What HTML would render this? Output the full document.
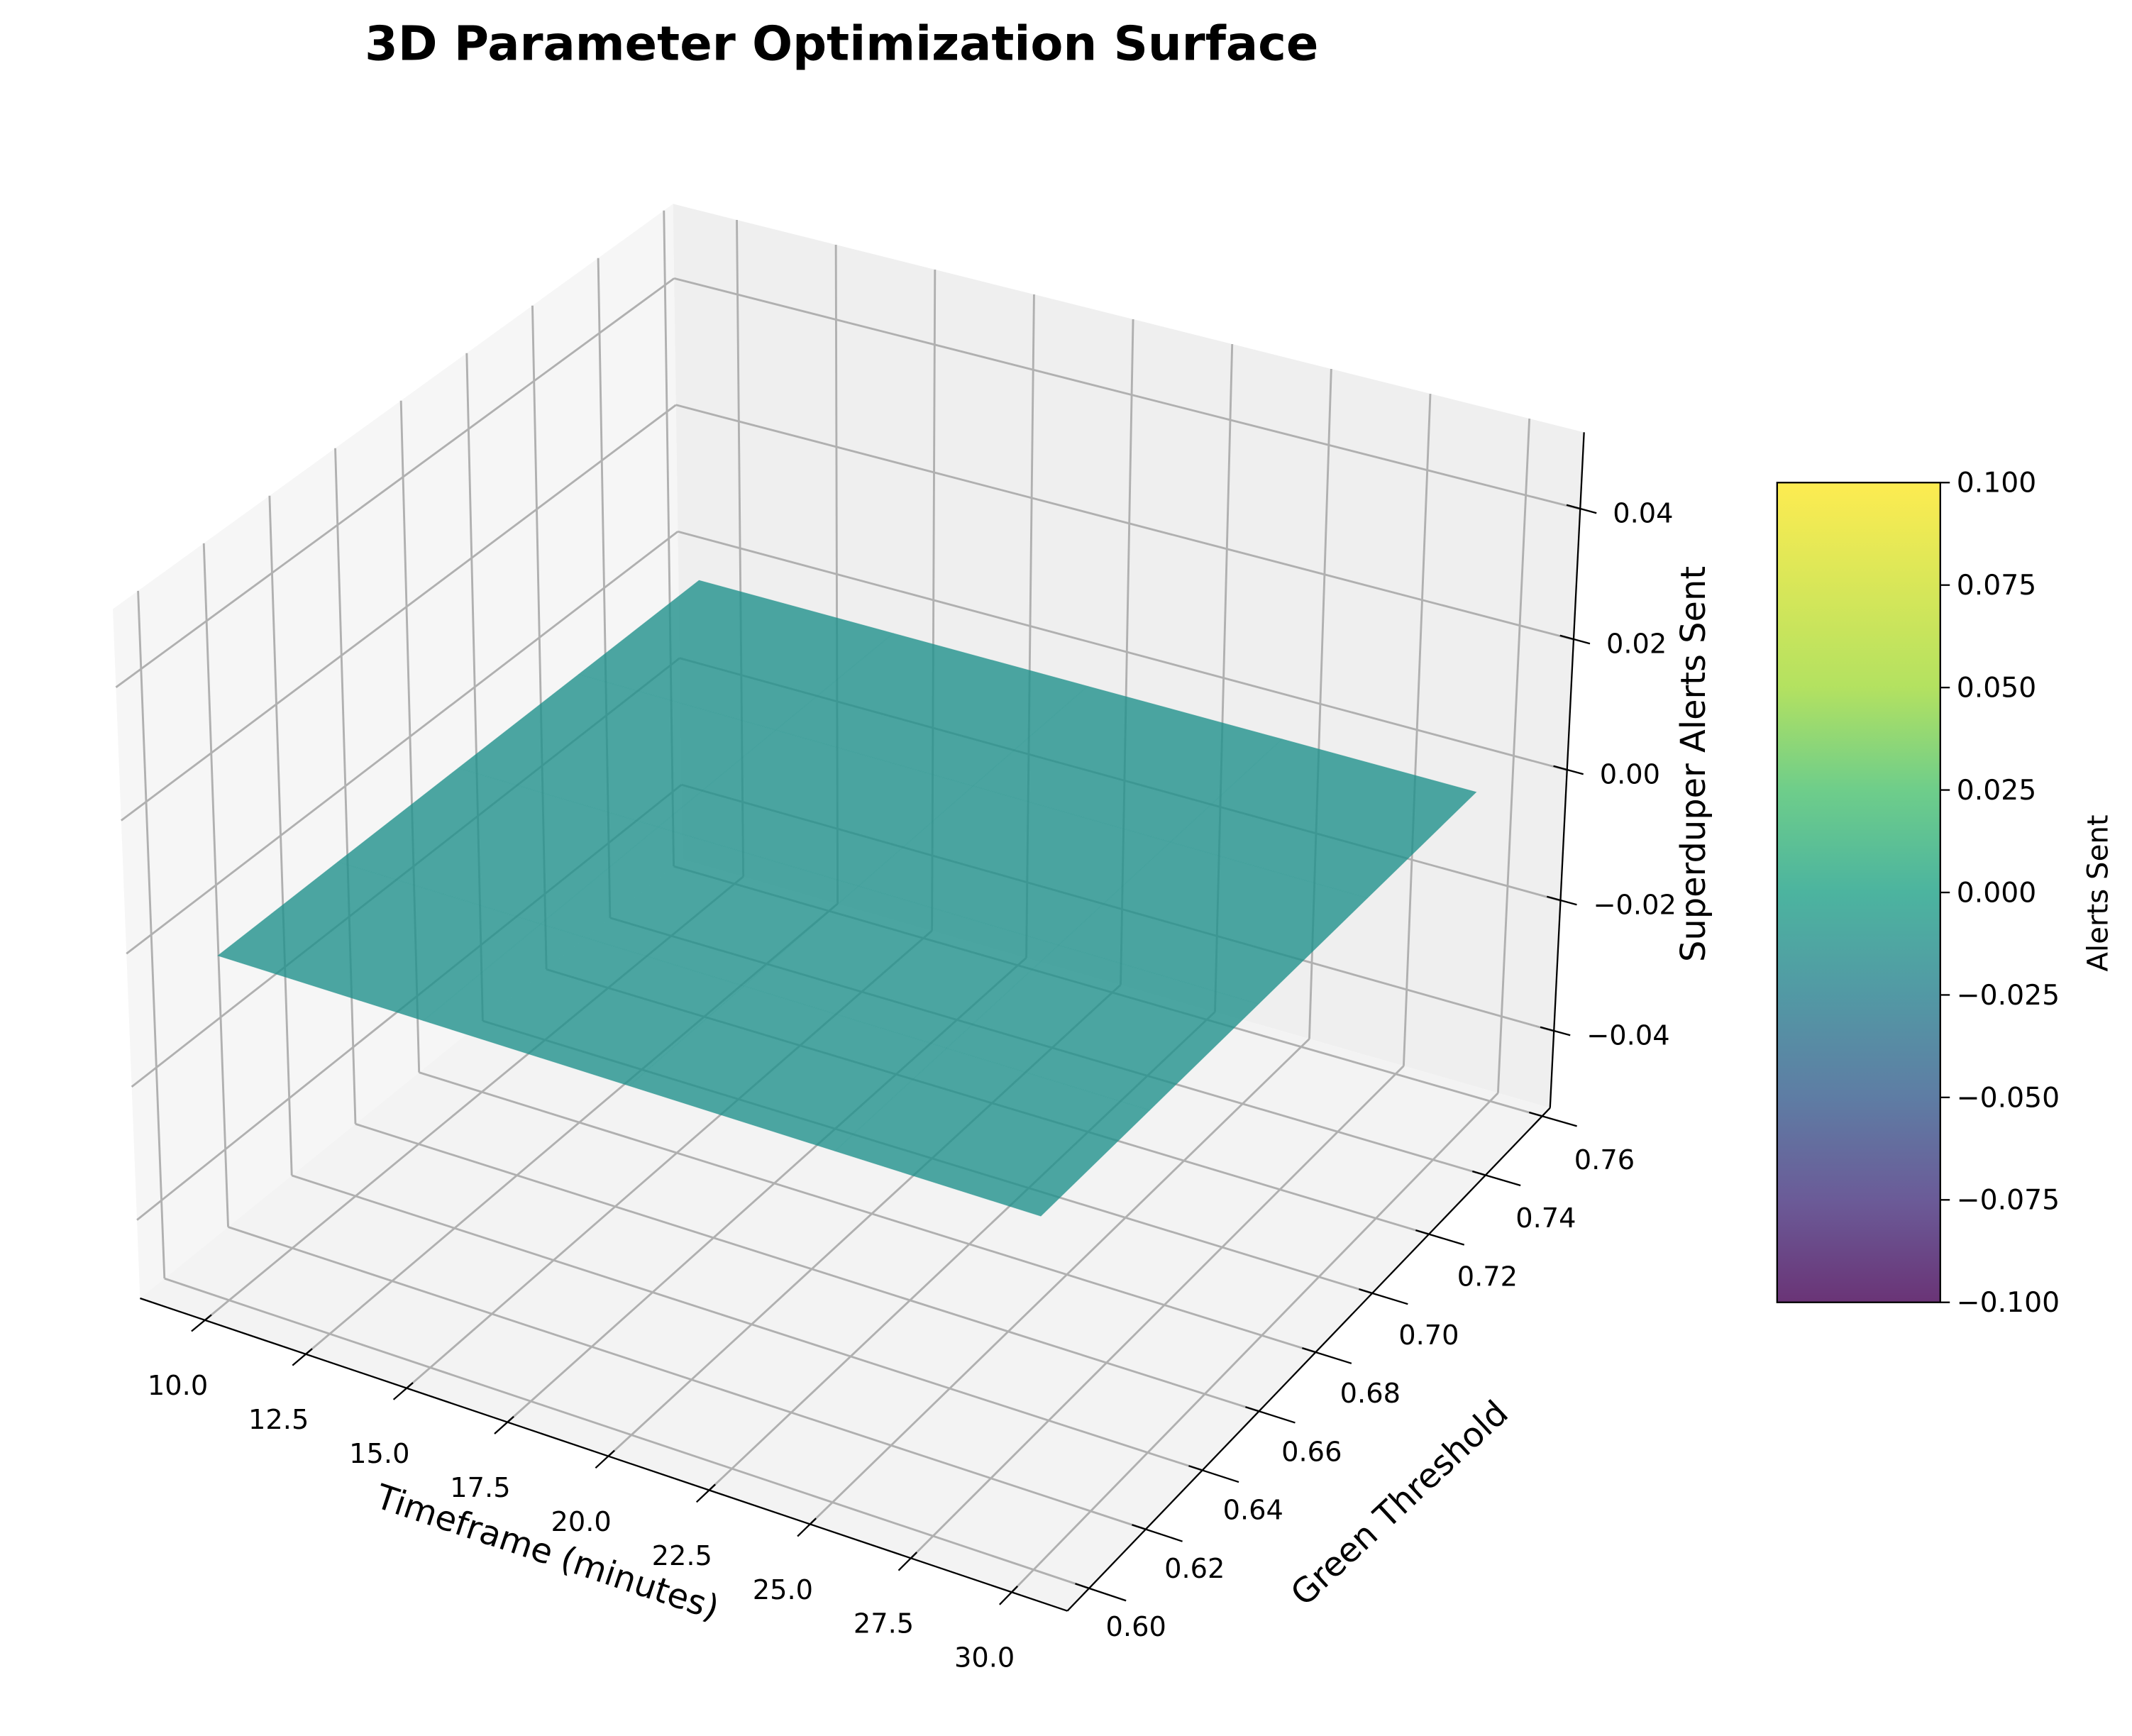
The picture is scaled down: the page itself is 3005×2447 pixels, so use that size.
<!DOCTYPE html>
<html><head><meta charset="utf-8"><style>
html,body{margin:0;padding:0;background:#fff}
svg{display:block}
text{font-family:"DejaVu Sans","Liberation Sans",sans-serif}
</style></head><body>
<svg id="chart" width="3005" height="2447" viewBox="0 0 1568 1277" preserveAspectRatio="none" xmlns="http://www.w3.org/2000/svg">
<defs>
<linearGradient id="vir" x1="0" y1="1" x2="0" y2="0">
<stop offset="0" stop-color="#440154"/><stop offset="0.125" stop-color="#46327e"/><stop offset="0.25" stop-color="#365c8d"/><stop offset="0.375" stop-color="#277f8e"/><stop offset="0.5" stop-color="#1fa187"/><stop offset="0.625" stop-color="#4ac16d"/><stop offset="0.75" stop-color="#a0da39"/><stop offset="1" stop-color="#fde725"/>
</linearGradient>
</defs>
<text x="619" y="44" text-anchor="middle" font-size="35" font-weight="bold">3D Parameter Optimization Surface</text>
<g id="panes"></g><g id="grid"></g><g id="surf"></g><g id="axes"></g>
<g id="cbar"></g>
</svg>
<script>
const xTicks=[10,12.5,15,17.5,20,22.5,25,27.5,30];
const xTickLabels=["10.0","12.5","15.0","17.5","20.0","22.5","25.0","27.5","30.0"];
const yTicks=[0.60,0.62,0.64,0.66,0.68,0.70,0.72,0.74,0.76];
const yTickLabels=["0.60","0.62","0.64","0.66","0.68","0.70","0.72","0.74","0.76"];
const zTicks=[-0.04,-0.02,0,0.02,0.04];
const zTickLabels=["\u22120.04","\u22120.02","0.00","0.02","0.04"];
const surfX=[10,15,20,25,30];
const surfY=[0.60,0.6375,0.675,0.7125,0.75];
const surfZ=[[0,0,0,0,0],[0,0,0,0,0],[0,0,0,0,0],[0,0,0,0,0],[0,0,0,0,0]];
const cbTicks=[-0.1,-0.075,-0.05,-0.025,0,0.025,0.05,0.075,0.1];
const cbTickLabels=["\u22120.100","\u22120.075","\u22120.050","\u22120.025","0.000","0.025","0.050","0.075","0.100"];

const NS="http://www.w3.org/2000/svg";
const C={L0:[103,955],F0:[785,1185],B0:[502,632],R0:[1140,815],L1:[83,448],F1:[797,663],B1:[495,150],R1:[1165,318]};
function lerp(a,b,t){return [a[0]+(b[0]-a[0])*t,a[1]+(b[1]-a[1])*t];}
function P(u,v,w){
  const b=lerp(lerp(C.L0,C.F0,u),lerp(C.B0,C.R0,u),v);
  const t=lerp(lerp(C.L1,C.F1,u),lerp(C.B1,C.R1,u),v);
  return lerp(b,t,w);
}
const U=x=>0.07+0.87*(x-10)/20;
const V=y=>0.045+0.88*(y-0.6)/0.15;
const W=z=>0.50+z*9.66;
function el(tag,attrs,parent){const e=document.createElementNS(NS,tag);for(const k in attrs)e.setAttribute(k,attrs[k]);document.getElementById(parent).appendChild(e);return e;}
function pts(a){return a.map(p=>p[0].toFixed(1)+","+p[1].toFixed(1)).join(" ");}

let e;
e=el("polygon",{points:pts([P(0,0,0),P(0,1,0),P(0,1,1),P(0,0,1)]),fill:"#f6f6f6"},"panes");

e=el("polygon",{points:pts([P(0,1,0),P(1,1,0),P(1,1,1),P(0,1,1)]),fill:"#efefef"},"panes");

e=el("polygon",{points:pts([P(0,0,0),P(1,0,0),P(1,1,0),P(0,1,0)]),fill:"#f3f3f3"},"panes");

function gl(a,b,name){const l=el("line",{x1:a[0],y1:a[1],x2:b[0],y2:b[1],stroke:"#b0b0b0","stroke-width":1.5},"grid");
}
xTicks.forEach(x=>{const u=U(x);gl(P(u,0,0),P(u,1,0),'x-gridline');gl(P(u,1,0),P(u,1,1),'x-gridline');});
yTicks.forEach(y=>{const v=V(y);gl(P(0,v,0),P(1,v,0),'y-gridline');gl(P(0,v,0),P(0,v,1),'y-gridline');});
zTicks.forEach(z=>{const w=W(z);gl(P(0,0,w),P(0,1,w),'z-gridline');gl(P(0,1,w),P(1,1,w),'z-gridline');});

for(let i=0;i<surfX.length-1;i++)for(let j=0;j<surfY.length-1;j++){
  const q=[P(U(surfX[i]),V(surfY[j]),W(surfZ[j][i])),P(U(surfX[i+1]),V(surfY[j]),W(surfZ[j][i+1])),
           P(U(surfX[i+1]),V(surfY[j+1]),W(surfZ[j+1][i+1])),P(U(surfX[i]),V(surfY[j+1]),W(surfZ[j+1][i]))];
  const s=el("polygon",{points:pts(q),fill:"#21918c","fill-opacity":0.8,stroke:"#21918c","stroke-opacity":0.15,"stroke-width":0.5},"surf");
  
}

function al(a,b,name){const l=el("line",{x1:a[0],y1:a[1],x2:b[0],y2:b[1],stroke:"#000","stroke-width":1.2},"axes");
}
function tx(x,y,s,name,extra){const t=el("text",Object.assign({x:x,y:y,"font-size":20},extra||{}),"axes");t.textContent=s;
return t;}
al(P(0,0,0),P(1,0,0),'x-axis-line');
al(P(1,0,0),P(1,1,0),'y-axis-line');
al(P(1,1,0),P(1,1,1),'z-axis-line');
xTicks.forEach((x,i)=>{const u=U(x);al(P(u,-0.025,0),P(u,0.012,0),'x-tick');const p=P(u,0,0);
  tx(p[0]-20,p[1]+55,xTickLabels[i],'x-tick-label',{"text-anchor":"middle"});});
yTicks.forEach((y,i)=>{const v=V(y);al(P(1.04,v,0),P(0.985,v,0),'y-tick');const p=P(1,v,0);
  tx(p[0]+34+12*v,p[1]+35+4*v,yTickLabels[i],'y-tick-label',{"text-anchor":"middle"});});
zTicks.forEach((z,i)=>{const w=W(z);const p=P(1,1,w);al([p[0]-10,p[1]-3],[p[0]+12,p[1]+3],'z-tick');
  tx(p[0]+24,p[1]+10,zTickLabels[i],'z-tick-label');});
tx(0,0,"Timeframe (minutes)","x-axis-title",{"font-size":25,"text-anchor":"middle",transform:"translate(400,1150) rotate(18.5)"});
tx(0,0,"Green Threshold","y-axis-title",{"font-size":25,"text-anchor":"middle",transform:"translate(1035,1112) rotate(-43)"});
tx(0,0,"Superduper Alerts Sent","z-axis-title",{"font-size":25,"text-anchor":"middle",transform:"translate(1254,562) rotate(-90)"});

const cb={x:1307,y0:958,y1:355,w:120};
const cy=v=>cb.y0+(v-(-0.1))/0.2*(cb.y1-cb.y0);
e=el("rect",{x:cb.x,y:cb.y1,width:cb.w,height:cb.y0-cb.y1,fill:"url(#vir)","fill-opacity":0.8,stroke:"#000","stroke-width":1.2},"cbar");

cbTicks.forEach((v,i)=>{const y=cy(v);
  const l=el("line",{x1:cb.x+cb.w,y1:y,x2:cb.x+cb.w+7,y2:y,stroke:"#000","stroke-width":1.2},"cbar");
  
  const t2=el("text",{x:cb.x+cb.w+12,y:y+7,"font-size":20.5},"cbar");t2.textContent=cbTickLabels[i];
  });
e=el("text",{x:0,y:0,"font-size":21,"text-anchor":"middle",transform:"translate(1550,657) rotate(-90)"},"cbar");
e.textContent="Alerts Sent";

</script>
</body></html>
